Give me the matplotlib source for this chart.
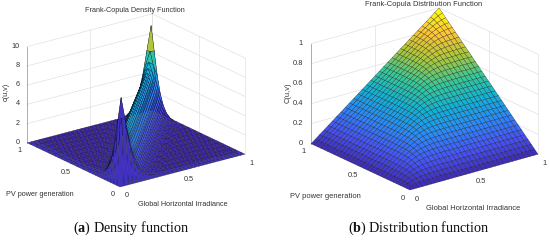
import numpy as np
import matplotlib
matplotlib.use("Agg")
import matplotlib.pyplot as plt
from matplotlib.colors import LinearSegmentedColormap, Normalize
from mpl_toolkits.mplot3d import proj3d

plt.rcParams['font.family'] = ['Liberation Sans', 'DejaVu Sans']
plt.rcParams['mathtext.fontset'] = 'custom'
plt.rcParams['mathtext.bf'] = 'Liberation Serif:bold'
plt.rcParams['mathtext.rm'] = 'Liberation Serif'

xy_ticks = [0, 0.5, 1]
xy_tick_labels = ['0', '0.5', '1']
density_z_ticks = [0, 2, 4, 6, 8, 10]
cdf_z_ticks = [0, .2, .4, .6, .8, 1]
cdf_z_tick_labels = ['0', '0.2', '0.4', '0.6', '0.8', '1']

# density read along lines parallel to the ridge (offset = distance from the diagonal in grid steps);
# the outermost grid rows of the surface lie on the floor, so each list starts at grid row 1
density_off0 = [9.05, 6.63, 5.75, 5.37, 5.18, 5.09, 5.05, 5.02, 5.01] + [5.0] * 11 + [5.01, 5.02, 5.05, 5.09, 5.18, 5.37, 5.75, 6.63, 9.05]
density_off1 = [6.57, 5.41, 4.93, 4.70, 4.59, 4.54, 4.51, 4.50, 4.49] + [4.48] * 10 + [4.49, 4.50, 4.51, 4.54, 4.59, 4.70, 4.93, 5.41, 6.57]
density_off2 = [4.14, 3.70, 3.50, 3.40, 3.35, 3.33, 3.32, 3.31] + [3.30] * 11 + [3.31, 3.32, 3.33, 3.35, 3.40, 3.50, 3.70, 4.14]
density_off3 = [2.38, 2.24, 2.17, 2.13, 2.12, 2.11] + [2.10] * 14 + [2.11, 2.12, 2.13, 2.17, 2.24, 2.38]
density_off4 = [1.30, 1.26, 1.24, 1.23] + [1.22] * 17 + [1.23, 1.24, 1.26, 1.30]
density_off5 = [.69, .68, .67] + [.667] * 18 + [.67, .68, .69]
density_off6 = [.36, .355] + [.353] * 19 + [.355, .36]
density_off7 = [.186] + [.185] * 20 + [.186]
density_off8 = [.095] * 21
density_off9 = [.05] * 20
density_off10 = [.026] * 19
density_off11 = [.013] * 18
density_off12 = [.0066] * 17
density_off13 = [.0034] * 16
density_offs = [density_off0, density_off1, density_off2, density_off3, density_off4, density_off5, density_off6,
                density_off7, density_off8, density_off9, density_off10, density_off11, density_off12, density_off13]

# distribution function: upper triangle, row i starts on the diagonal
cdf_row0 = [0] * 31
cdf_row1 = [.013, .022, .027, .030, .031, .032, .032] + [.033] * 23
cdf_row2 = [.039, .051, .058, .062, .064, .066, .066] + [.067] * 22
cdf_row3 = [.069, .082, .090, .094, .097, .098, .099] + [.100] * 21
cdf_row4 = [.100, .113, .122, .127, .130, .131, .132] + [.133] * 20
cdf_row5 = [.133, .147, .156, .161, .164, .165, .166] + [.167] * 19
cdf_row6 = [.166, .180, .189, .194, .197, .198, .199] + [.200] * 18
cdf_row7 = [.198, .212, .221, .227, .230, .231, .232] + [.233] * 17
cdf_row8 = [.232, .246, .255, .261, .264, .265, .266] + [.267] * 16
cdf_row9 = [.265, .279, .288, .294, .297, .298, .299] + [.300] * 15
cdf_row10 = [.298, .312, .321, .327, .330, .331, .332] + [.333] * 14
cdf_row11 = [.332, .346, .355, .361, .364, .365, .366] + [.367] * 13
cdf_row12 = [.365, .379, .388, .394, .397, .398, .399] + [.400] * 12
cdf_row13 = [.398, .412, .421, .427, .430, .431, .432] + [.433] * 11
cdf_row14 = [.432, .446, .455, .461, .464, .465, .466] + [.467] * 10
cdf_row15 = [.465, .479, .488, .494, .497, .498, .499] + [.500] * 9
cdf_row16 = [.498, .512, .521, .527, .530, .531, .532] + [.533] * 8
cdf_row17 = [.532, .546, .555, .561, .564, .565, .566] + [.567] * 7
cdf_row18 = [.565, .579, .588, .594, .597, .598, .599] + [.600] * 6
cdf_row19 = [.598, .612, .621, .627, .630, .631, .632] + [.633] * 5
cdf_row20 = [.632, .646, .655, .661, .664, .665, .666] + [.667] * 4
cdf_row21 = [.665, .679, .688, .694, .697, .698, .699] + [.700] * 3
cdf_row22 = [.698, .712, .722, .727, .730, .731, .732, .733, .733]
cdf_row23 = [.732, .747, .756, .761, .764, .766, .766, .767]
cdf_row24 = [.766, .780, .789, .794, .797, .799, .800]
cdf_row25 = [.799, .813, .823, .828, .831, .833]
cdf_row26 = [.834, .849, .858, .864, .867]
cdf_row27 = [.869, .884, .894, .900]
cdf_row28 = [.905, .922, .933]
cdf_row29 = [.947, .967]
cdf_row30 = [1.0]
cdf_rows = [cdf_row0, cdf_row1, cdf_row2, cdf_row3, cdf_row4, cdf_row5, cdf_row6, cdf_row7, cdf_row8, cdf_row9,
            cdf_row10, cdf_row11, cdf_row12, cdf_row13, cdf_row14, cdf_row15, cdf_row16, cdf_row17, cdf_row18,
            cdf_row19, cdf_row20, cdf_row21, cdf_row22, cdf_row23, cdf_row24, cdf_row25, cdf_row26, cdf_row27,
            cdf_row28, cdf_row29, cdf_row30]

nc = len(cdf_rows)
density = np.zeros((nc, nc))
for k, vals in enumerate(density_offs):
    for i, val in enumerate(vals):
        density[i + 1, i + 1 + k] = density[i + 1 + k, i + 1] = val
cdf = np.zeros((nc, nc))
for i, vals in enumerate(cdf_rows):
    for k, val in enumerate(vals):
        cdf[i, i + k] = cdf[i + k, i] = val

parula = LinearSegmentedColormap.from_list('parula', [
    (.2422, .1504, .6603), (.2810, .3228, .9579), (.1786, .5289, .9682), (.0689, .6948, .8394),
    (.2161, .7843, .5923), (.6720, .7793, .2227), (.9970, .7659, .2199), (.9763, .9831, .0538)])

fig = plt.figure(figsize=(5.5, 2.4), dpi=100, facecolor='white')
GRID = (.87, .87, .87)
AXC = (.55, .55, .55)
TXT = '#333333'


def panel(Z, colors, azim, elev, zmax, zaspect, zticks, zlabels, front, right, lw, fs):
    n = Z.shape[0]
    U, V = np.meshgrid(np.linspace(0, 1, n), np.linspace(0, 1, n), indexing='ij')
    ax = fig.add_axes([front[0] / 550 - .1, .1, .5, .5 * 5.5 / 2.4], projection='3d')
    ax.set_proj_type('ortho')
    ax.view_init(elev=elev, azim=azim)
    ax.set_box_aspect((1, 1, zaspect))
    ax.set_xlim(0, 1); ax.set_ylim(0, 1); ax.set_zlim(0, zmax)
    ax.set_axis_off()
    ax.computed_zorder = False
    ax.patch.set_alpha(0)
    for z in zticks:
        ax.plot([0, 1, 1], [1, 1, 0], [z, z, z], color=GRID, lw=.45, zorder=1)
    for t in xy_ticks[1:]:
        ax.plot([t, t], [1, 1], [0, zmax], color=GRID, lw=.45, zorder=1)
        ax.plot([1, 1], [t, t], [0, zmax], color=GRID, lw=.45, zorder=1)
    ax.plot([1, 1], [0, 0], [0, zmax], color=GRID, lw=.45, zorder=1)
    ax.plot([0, 0], [1, 1], [0, zmax], color=AXC, lw=.5, zorder=1)
    ax.plot_surface(U, V, Z, facecolors=colors, rstride=1, cstride=1, shade=False,
                    edgecolor=(0, 0, 0, .65), linewidth=lw, zorder=2, antialiased=True)

    # fit the box on the figure: scale, then shift
    def corner(x, y, z=0):
        X, Y, _ = proj3d.proj_transform(x, y, z, ax.get_proj())
        return ax.transData.transform((X, Y))
    fig.canvas.draw()
    k = (right[0] - front[0]) / (corner(1, 0)[0] - corner(0, 0)[0])
    b = ax.get_position()
    ax.set_position([b.x0, b.y0, b.width * k, b.height * k])
    fig.canvas.draw()
    p = corner(0, 0)
    b = ax.get_position()
    ax.set_position([b.x0 + (front[0] - p[0]) / 550, b.y0 + ((240 - front[1]) - p[1]) / 240, b.width, b.height])
    fig.canvas.draw()

    def label(x, y, z, s, ha='center'):
        q = corner(x, y, z)
        fig.text(q[0] / 550, q[1] / 240, s, ha=ha, va='center', fontsize=fs, color=TXT)
    d = zmax / 100
    for z, lab in zip(zticks, zlabels):
        label(-.035, 1.035, z, lab, 'right')
    for t, lab in zip(xy_ticks, xy_tick_labels):
        label(t, -.07, -6 * d, lab)
        label(-.06, t, -6 * d, lab)


# panel (a): colour of a facet from its far corner; facets at the near end of the ridge stay at the low end
a_colors = parula(Normalize(0, 12.5)(density[1:, 1:]))
a_colors[:2, :] = parula(.04)
a_colors[:, :2] = parula(.04)
panel(density, a_colors, -126.6, 20.7, 10, .66, density_z_ticks, [str(z) for z in density_z_ticks],
      (120, 187), (245, 154), .25, 5.25)

# panel (b)
b_colors = parula(Normalize(0, 1)(cdf[1:, 1:]))
panel(cdf, b_colors, -127.7, 21.2, 1, .663, cdf_z_ticks, cdf_z_tick_labels, (410, 190), (538, 154), .27, 5.45)

labels = [
    (135, 10, 'Frank-Copula Density Function', 0, 5.25), (183, 204, 'Global Horizontal Irradiance', 0, 5.25),
    (40, 194, 'PV power generation', 0, 5.25), (6, 92, 'c(u,v)', 90, 5.25),
    (424, 5, 'Frank-Copula Distribution Function', 0, 5.45), (473, 208, 'Global Horizontal Irradiance', 0, 5.45),
    (325, 197, 'PV power generation', 0, 5.45), (288, 93, 'C(u,v)', 90, 5.45),
]
for x, y, s, rot, fs in labels:
    fig.text(x / 550, 1 - y / 240, s, ha='center', va='center', rotation=rot, fontsize=fs, color=TXT)

for x, s in [(131, r'($\mathbf{a}$) Density function'), (419, r'($\mathbf{b}$) Distribution function')]:
    fig.text(x / 550, 1 - 228 / 240, s, ha='center', va='center', fontsize=10.2, family='Liberation Serif', color='#111111')

fig.savefig('out.png', dpi=100, facecolor='white')
